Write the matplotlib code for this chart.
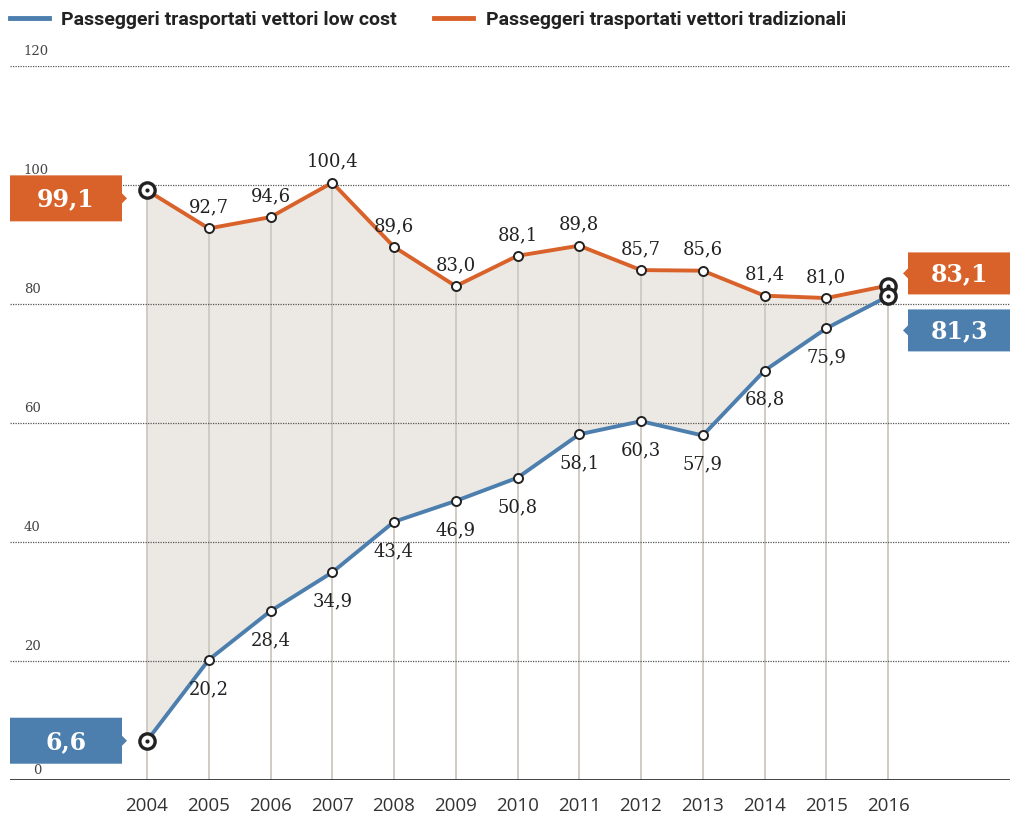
import matplotlib
matplotlib.use("Agg")
import matplotlib.pyplot as plt
from matplotlib.patches import Polygon
from matplotlib.lines import Line2D
from matplotlib.transforms import IdentityTransform

years = [2004, 2005, 2006, 2007, 2008, 2009, 2010, 2011, 2012, 2013, 2014, 2015, 2016]
low_cost = [6.6, 20.2, 28.4, 34.9, 43.4, 46.9, 50.8, 58.1, 60.3, 57.9, 68.8, 75.9, 81.3]
traditional = [99.1, 92.7, 94.6, 100.4, 89.6, 83.0, 88.1, 89.8, 85.7, 85.6, 81.4, 81.0, 83.1]
y_ticks = [0, 20, 40, 60, 80, 100, 120]
legend_labels = ["Passeggeri trasportati vettori low cost",
                 "Passeggeri trasportati vettori tradizionali"]

BLUE = "#4d7fae"
ORANGE = "#d9622b"
FILL = "#ece9e4"
VLINE = "#cdc8c0"
DARK = "#222222"

W, H = 1010, 816
fig = plt.figure(figsize=(W / 100, H / 100), dpi=100)
ax = fig.add_axes([10 / W, 36 / H, 1000 / W, 714 / H])
ax.set_xlim(2004 - 137 / 61.75, 2004 + 863 / 61.75)
ax.set_ylim(0, 120)
for s in ax.spines.values():
    s.set_visible(False)
ax.set_xticks([])
ax.set_yticks([])

# gridlines
for t in y_ticks:
    if t == 0:
        ax.axhline(0, color="#333333", lw=1.3, zorder=2)
    else:
        ax.axhline(t, color="#555555", lw=0.9, ls=(0, (1, 1)), zorder=2)
    ax.annotate(str(t), xy=(0, t), xycoords=ax.get_yaxis_transform(),
                xytext=(10 if t else 17, 6 if t else 2), textcoords="offset points",
                fontsize=9.5, family="DejaVu Serif", color="#444444",
                ha="left", va="bottom", zorder=3)

# fill and verticals
ax.fill_between(years, low_cost, traditional, color=FILL, lw=0, zorder=1)
ax.vlines(years, 0, traditional, color=VLINE, lw=1.3, zorder=1.5)

# lines
ax.plot(years, traditional, color=ORANGE, lw=2.8, zorder=4, solid_capstyle="round")
ax.plot(years, low_cost, color=BLUE, lw=2.8, zorder=4, solid_capstyle="round")

# markers
mid = slice(1, -1)
for series in (traditional, low_cost):
    ax.plot(years[mid], series[mid], ls="none", marker="o", ms=6.5,
            mfc="white", mec=DARK, mew=1.4, zorder=5)
    ends_x = [years[0], years[-1]]
    ends_y = [series[0], series[-1]]
    ax.plot(ends_x, ends_y, ls="none", marker="o", ms=11, mfc="white",
            mec=DARK, mew=2.4, zorder=5)
    ax.plot(ends_x, ends_y, ls="none", marker="o", ms=3, mfc=DARK,
            mec=DARK, mew=0, zorder=6)


def fmt(v):
    return f"{v:.1f}".replace(".", ",")


for i in range(1, len(years) - 1):
    ax.annotate(fmt(traditional[i]), xy=(years[i], traditional[i]),
                xytext=(0, 15), textcoords="offset points", ha="center",
                va="center", fontsize=13, family="DejaVu Serif", color=DARK,
                zorder=6)
    ax.annotate(fmt(low_cost[i]), xy=(years[i], low_cost[i]),
                xytext=(0, -21), textcoords="offset points", ha="center",
                va="center", fontsize=13, family="DejaVu Serif", color=DARK,
                zorder=6)

# year labels
for yr in years:
    ax.annotate(str(yr), xy=(yr, 0), xycoords="data", xytext=(0, -19),
                textcoords="offset points", ha="center", va="center",
                fontsize=13.5, family=["Open Sans", "DejaVu Sans"],
                color="#333333")


# callout boxes (display pixel coordinates derived from data)
def callout(year, value, color, side, dy_px=0.0, h2=23):
    px, py = ax.transData.transform((year, value))
    py += dy_px
    if side == "left":
        x1 = ax.transAxes.transform((0, 0))[0]
        x2 = px - 25
        verts = [(x1, py - h2), (x2, py - h2), (x2, py - 5), (x2 + 5, py),
                 (x2, py + 5), (x2, py + h2), (x1, py + h2)]
        cx = (x1 + x2) / 2
    else:
        x1 = px + 20
        x2 = ax.transAxes.transform((1, 0))[0]
        verts = [(x1, py + h2), (x2, py + h2), (x2, py - h2), (x1, py - h2),
                 (x1, py - 5), (x1 - 5, py), (x1, py + 5)]
        cx = (x1 + x2) / 2
    poly = Polygon(verts, closed=True, facecolor=color, edgecolor="none",
                   transform=IdentityTransform(), zorder=7)
    fig.add_artist(poly)
    fig.text(cx / W, (py - 1) / H, fmt(value), ha="center", va="center",
             fontsize=17, family="DejaVu Serif", color="white",
             fontweight="bold", zorder=8)


callout(years[0], traditional[0], ORANGE, "left", dy_px=-8)
callout(years[0], low_cost[0], BLUE, "left")
p_t = ax.transData.transform((years[-1], traditional[-1]))[1]
p_l = ax.transData.transform((years[-1], low_cost[-1]))[1]
midp = (p_t + p_l) / 2 - 11
callout(years[-1], traditional[-1], ORANGE, "right", dy_px=midp + 28.5 - p_t, h2=21)
callout(years[-1], low_cost[-1], BLUE, "right", dy_px=midp - 28.5 - p_l, h2=21)

# legend
handles = [Line2D([], [], color=BLUE, lw=3.5), Line2D([], [], color=ORANGE, lw=3.5)]
fig.legend(handles, legend_labels, ncol=2, loc="center left",
           bbox_to_anchor=(8 / W, 1 - 20 / H), frameon=False, handlelength=2.0,
           handletextpad=0.65, columnspacing=1.9, borderaxespad=0, borderpad=0.1,
           prop={"family": ["Roboto", "DejaVu Sans"], "size": 14,
                 "weight": "semibold"}, labelcolor="#222222")

fig.savefig("out.png", dpi=100)
